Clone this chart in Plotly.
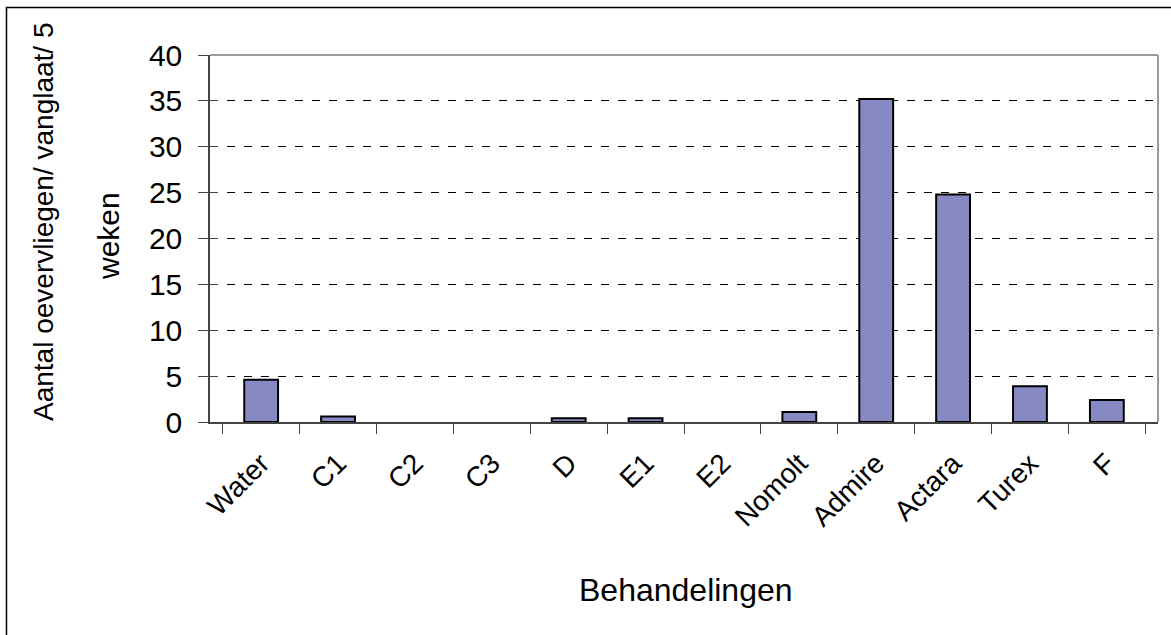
import plotly.graph_objects as go

categories = ["Water", "C1", "C2", "C3", "D", "E1", "E2", "Nomolt", "Admire", "Actara", "Turex", "F"]
values = [4.6, 0.6, 0, 0, 0.4, 0.4, 0, 1.1, 35.2, 24.8, 3.9, 2.4]
y_ticks = [0, 5, 10, 15, 20, 25, 30, 35, 40]

W, H = 1171, 635
L, R, T, B = 210, 13, 55, 213
pw, ph = W - L - R, H - T - B

def px_x(p):
    return (p - L) / pw

def px_y(p):
    return (H - B - p) / ph

FONT = "Liberation Sans, Arial, Helvetica, sans-serif"

# zero-height bars are not outlined in the reference
outline_widths = [2 if v > 0 else 0 for v in values]

fig = go.Figure()
fig.add_trace(go.Bar(
    x=categories, y=values,
    marker=dict(color="#8689C3", line=dict(color="#000000", width=outline_widths)),
    showlegend=False, hoverinfo="x+y",
))
# invisible trace so the overlay axis (inside tick marks) is drawn
fig.add_trace(go.Scatter(x=categories, y=values, yaxis="y2", mode="markers",
                         marker=dict(opacity=0), showlegend=False, hoverinfo="skip"))

fig.update_layout(
    width=W, height=H,
    margin=dict(l=L, r=R, t=T, b=B, autoexpand=False),
    paper_bgcolor="white", plot_bgcolor="white",
    bargap=0.56,
    font=dict(family=FONT, color="black"),
    xaxis=dict(
        type="category", tickson="boundaries", ticks="outside", ticklen=10,
        tickcolor="#444", tickwidth=1.2, automargin=False,
        showline=True, linecolor="#444", linewidth=1.5,
        tickangle=-45, tickfont=dict(size=28, family=FONT, color="black"),
        ticklabelstandoff=12, showgrid=False, zeroline=False,
    ),
    yaxis=dict(
        range=[0, 40], tickvals=y_ticks, ticks="outside", ticklen=10,
        tickcolor="#444", tickwidth=1.2, automargin=False,
        showline=True, linecolor="#444", linewidth=1.5,
        tickfont=dict(size=30, family=FONT, color="black"),
        ticklabelstandoff=10,
        showgrid=True, gridcolor="black", gridwidth=1, griddash="8px,9px",
        zeroline=False,
    ),
    yaxis2=dict(
        range=[0, 40], tickvals=y_ticks, overlaying="y", side="left",
        ticks="inside", ticklen=8, tickcolor="#444", tickwidth=1.2,
        automargin=False,
        showticklabels=False, showgrid=False, zeroline=False, showline=False,
    ),
    shapes=[
        dict(type="line", xref="paper", yref="paper", x0=0, x1=1, y0=1, y1=1,
             line=dict(color="#999999", width=2), layer="below"),
        dict(type="line", xref="paper", yref="paper", x0=1, x1=1, y0=0, y1=1,
             line=dict(color="#999999", width=2), layer="below"),
        dict(type="rect", xref="paper", yref="paper",
             x0=px_x(6.5), x1=px_x(1190), y0=px_y(660), y1=px_y(7.5),
             line=dict(color="black", width=1.5), layer="below"),
    ],
    annotations=[
        dict(text="Aantal oevervliegen/ vanglaat/ 5", textangle=-90,
             xref="paper", yref="paper", x=px_x(44), y=px_y(222),
             xanchor="center", yanchor="middle", showarrow=False,
             font=dict(size=28, family=FONT, color="black")),
        dict(text="weken", textangle=-90,
             xref="paper", yref="paper", x=px_x(109), y=px_y(236),
             xanchor="center", yanchor="middle", showarrow=False,
             font=dict(size=30, family=FONT, color="black")),
        dict(text="Behandelingen", xref="paper", yref="paper",
             x=px_x(686), y=px_y(590), xanchor="center", yanchor="middle",
             showarrow=False, font=dict(size=32, family=FONT, color="black")),
    ],
)

fig.write_html(
    "out.html",
    config={"displayModeBar": False},
    post_script="document.body.style.margin='0';document.body.style.overflow='hidden';",
)
